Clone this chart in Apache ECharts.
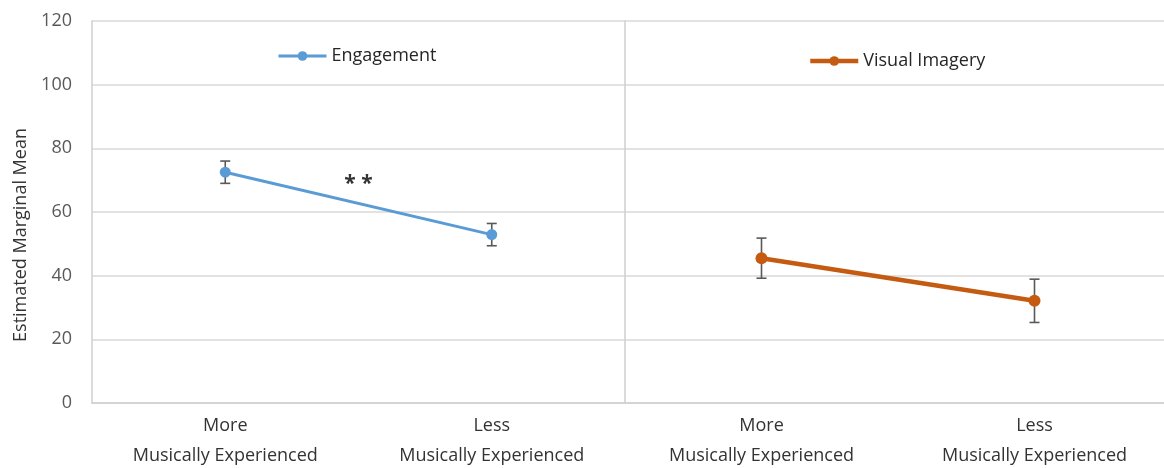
<!DOCTYPE html>
<html>
<head>
<meta charset="utf-8">
<script src="https://cdn.jsdelivr.net/npm/echarts@6/dist/echarts.min.js"></script>
<style>
  html, body { margin: 0; padding: 0; background: #ffffff; }
  #chart { width: 1164px; height: 468px; }
</style>
</head>
<body>
<div id="chart"></div>
<script>
// Two experience groups per panel
const categories = ['More\nMusically Experienced', 'Less\nMusically Experienced'];

// Estimated marginal means and error half-widths
const engagementMeans = [72.5, 52.9];
const engagementErr = [3.5, 3.5];
const imageryMeans = [45.5, 32.1];
const imageryErr = [6.3, 6.8];

// Value axis ticks
const yMin = 0, yMax = 120, yStep = 20;

// Significance marker between the two Engagement points
const sigText = '* *';
const sigValue = 68.8;

const FONT = 'Open Sans';
const GRID_COLOR = '#d9d9d9';
const AXIS_COLOR = '#cfcfcf';
const BLUE = '#5b9bd5';
const ORANGE = '#c55a11';
const BAR_COLOR = '#595959';

function errorData(means, errs) {
  return means.map((m, i) => [i, m - errs[i], m + errs[i]]);
}

function renderErrorBar(params, api) {
  const idx = api.value(0);
  const lo = api.coord([idx, api.value(1)]);
  const hi = api.coord([idx, api.value(2)]);
  const cap = 5;
  const style = { stroke: BAR_COLOR, lineWidth: 1.6 };
  return {
    type: 'group',
    children: [
      { type: 'line', shape: { x1: lo[0], y1: lo[1], x2: hi[0], y2: hi[1] }, style },
      { type: 'line', shape: { x1: hi[0] - cap, y1: hi[1], x2: hi[0] + cap, y2: hi[1] }, style },
      { type: 'line', shape: { x1: lo[0] - cap, y1: lo[1], x2: lo[0] + cap, y2: lo[1] }, style }
    ]
  };
}

function xAxisFor(gridIndex) {
  return {
    type: 'category',
    gridIndex,
    data: categories,
    boundaryGap: true,
    axisTick: { show: false },
    axisLine: { show: true, lineStyle: { color: AXIS_COLOR, width: 1.5 } },
    axisLabel: {
      color: '#333333',
      fontFamily: FONT,
      fontSize: 18,
      lineHeight: 30,
      margin: 8
    },
    splitLine: { show: false }
  };
}

function yAxisFor(gridIndex, showLabels) {
  const axis = {
    type: 'value',
    gridIndex,
    min: yMin,
    max: yMax,
    interval: yStep,
    axisLine: { show: true, lineStyle: { color: AXIS_COLOR, width: 1.5 } },
    axisTick: { show: false },
    axisLabel: {
      show: showLabels,
      color: '#595959',
      fontFamily: FONT,
      fontSize: 18,
      margin: 20
    },
    splitLine: { show: true, lineStyle: { color: GRID_COLOR, width: 1.5 } }
  };
  if (showLabels) {
    axis.name = 'Estimated Marginal Mean';
    axis.nameLocation = 'middle';
    axis.nameRotate = 90;
    axis.nameGap = 62;
    axis.nameTextStyle = {
      color: '#333333',
      fontFamily: FONT,
      fontSize: 18,
      padding: [0, 46, 0, 0]
    };
  }
  return axis;
}

const chart = echarts.init(document.getElementById('chart'), null, { renderer: 'canvas' });

chart.setOption({
  backgroundColor: '#ffffff',
  animation: false,
  grid: [
    { left: 92, top: 21, width: 533, height: 382, outerBoundsMode: 'none' },
    { left: 625, top: 21, width: 546, height: 382, outerBoundsMode: 'none' }
  ],
  xAxis: [xAxisFor(0), xAxisFor(1)],
  yAxis: [yAxisFor(0, true), yAxisFor(1, false)],
  legend: [
    {
      data: ['Engagement'],
      left: 277,
      top: 47,
      padding: 0,
      itemWidth: 48,
      itemHeight: 12,
      lineStyle: { width: 3 },
      textStyle: { color: '#262626', fontFamily: FONT, fontSize: 18 }
    },
    {
      data: ['Visual Imagery'],
      left: 808,
      top: 52,
      padding: 0,
      itemWidth: 48,
      itemHeight: 12,
      lineStyle: { width: 4.5 },
      textStyle: { color: '#262626', fontFamily: FONT, fontSize: 18 }
    }
  ],
  series: [
    {
      name: 'Engagement error',
      type: 'custom',
      xAxisIndex: 0,
      yAxisIndex: 0,
      renderItem: renderErrorBar,
      data: errorData(engagementMeans, engagementErr),
      z: 1
    },
    {
      name: 'Visual Imagery error',
      type: 'custom',
      xAxisIndex: 1,
      yAxisIndex: 1,
      renderItem: renderErrorBar,
      data: errorData(imageryMeans, imageryErr),
      z: 1
    },
    {
      name: 'Engagement',
      type: 'line',
      xAxisIndex: 0,
      yAxisIndex: 0,
      data: engagementMeans,
      symbol: 'circle',
      symbolSize: 11,
      lineStyle: { color: BLUE, width: 3 },
      itemStyle: { color: BLUE },
      z: 3
    },
    {
      name: 'Visual Imagery',
      type: 'line',
      xAxisIndex: 1,
      yAxisIndex: 1,
      data: imageryMeans,
      symbol: 'circle',
      symbolSize: 12,
      lineStyle: { color: ORANGE, width: 4.5 },
      itemStyle: { color: ORANGE },
      z: 3
    }
  ]
});

// Place the significance stars midway between the two Engagement points
const p0 = chart.convertToPixel({ xAxisIndex: 0, yAxisIndex: 0 }, [0, sigValue]);
const p1 = chart.convertToPixel({ xAxisIndex: 0, yAxisIndex: 0 }, [1, sigValue]);
chart.setOption({
  graphic: [{
    type: 'text',
    x: (p0[0] + p1[0]) / 2,
    y: p0[1],
    style: {
      text: sigText,
      fill: '#333333',
      font: 'bold 21px "' + FONT + '"',
      align: 'center',
      verticalAlign: 'middle'
    },
    z: 10
  }]
});
</script>
</body>
</html>
